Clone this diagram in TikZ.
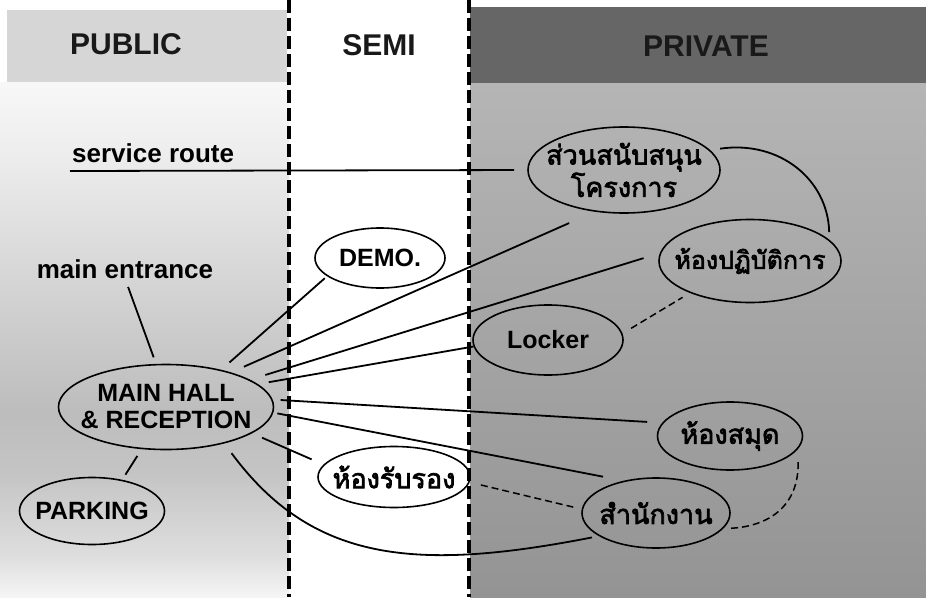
\documentclass[tikz,border=0pt]{standalone}
\usepackage{fontspec}
\setmainfont{Liberation Sans}
\newfontfamily\thaifont[Script=Thai,FakeBold=2.5]{Loma}
\usetikzlibrary{shapes.geometric}

\definecolor{pubband}{gray}{0.84}
\definecolor{privband}{gray}{0.40}
\definecolor{privtop}{gray}{0.71}
\definecolor{privbot}{gray}{0.58}
% public side: light at the top, darkest round the hall, fading out below
\pgfdeclareverticalshading{publicfade}{100bp}{gray(0bp)=(0.96); gray(25bp)=(0.96);
  gray(29bp)=(0.87); gray(37bp)=(0.77); gray(43bp)=(0.74); gray(51bp)=(0.80);
  gray(59bp)=(0.86); gray(68bp)=(0.93); gray(75bp)=(0.97); gray(100bp)=(0.97)}

\begin{document}
\begin{tikzpicture}[x=1pt,y=-1pt,
    zone/.style={font=\fontsize{30}{30}\selectfont\bfseries,text=black!90},
    tag/.style={inner sep=0pt,font=\fontsize{26}{28}\selectfont\bfseries},
    room/.style={draw,ellipse,line width=1.6pt,inner sep=-30pt,align=center,
      font=\fontsize{25}{27}\selectfont\bfseries},
    troom/.style={room,font=\fontsize{27}{31}\selectfont\thaifont},
    link/.style={line width=1.8pt},
    weak/.style={line width=1.5pt,dash pattern=on 7pt off 4pt},
    border/.style={line width=3.2pt,dash pattern=on 13pt off 5pt}
  ]
  \useasboundingbox (0,0) rectangle (926,597);

  % zones
  \fill[pubband] (7,10) rectangle (287,82);
  \shade[shading=publicfade] (0,82) rectangle (289,597);
  \fill[privband] (470,7) rectangle (926,83);
  \shade[top color=privtop,bottom color=privbot] (470,83) rectangle (926,597);
  \draw[border] (289,0) -- (289,597);
  \draw[border] (469,0) -- (469,597);

  \node[zone] (pubhead) at (126,44) {PUBLIC};
  \node[zone] (semihead) at (379,45) {SEMI};
  \node[zone] (privhead) at (706,46) {PRIVATE};

  % rooms
  \node[room,minimum width=215pt,minimum height=85pt] (hall) at (166,407) {MAIN HALL\\\& RECEPTION};
  \node[room,minimum width=145pt,minimum height=67pt] (parking) at (92,511) {PARKING};
  \node[room,minimum width=130pt,minimum height=60pt] (demo) at (380,258) {DEMO.};
  \node[troom,minimum width=152pt,minimum height=61pt] (reception) at (394,477) {ห้องรับรอง};
  \node[troom,minimum width=192pt,minimum height=86pt] (support) at (624,170) {ส่วนสนับสนุน\\โครงการ};
  \node[troom,minimum width=182pt,minimum height=83pt,font=\fontsize{25}{30}\selectfont\thaifont] (lab) at (750,261) {ห้องปฏิบัติการ};
  \node[room,minimum width=150pt,minimum height=70pt] (locker) at (548,340) {Locker};
  \node[troom,minimum width=145pt,minimum height=68pt] (library) at (730,436) {ห้องสมุด};
  \node[troom,minimum width=148pt,minimum height=70pt] (office) at (656,513) {สำนักงาน};

  \node[tag,anchor=base west] (route) at (72,162) {service route};
  \node[tag,anchor=base] (entrance) at (125,278) {main entrance};
  \coordinate (routestart) at (70,171);

  % links out of the hall
  \draw[link,shorten <=7pt,shorten >=9pt] (hall.103) -- (entrance.south);
  \draw[link,shorten <=8pt,shorten >=6pt] (hall.240) -- (parking.46);
  \draw[link,shorten <=11pt,shorten >=3pt] (hall.34) -- (demo.199);
  \draw[link,shorten <=14pt,shorten >=28pt] (hall.28) -- (support.235);
  \draw[link,shorten <=16pt,shorten >=17pt] (hall.18.5) -- (lab.175);
  \draw[link,shorten <=11pt] (hall.14) -- (locker.185);
  \draw[link,shorten <=8pt,shorten >=15pt] (hall.4) -- (library.169);
  \draw[link,shorten <=4pt,shorten >=21pt] (hall.-3) -- (office.135);
  \draw[link,shorten <=11pt,shorten >=13pt] (hall.-17.6) -- (reception.170);
  \draw[link,shorten <=12pt,shorten >=7pt] (hall.-32) .. controls (312,562) and (415,572) .. (office.202);

  % the rest
  \draw[link,shorten >=13pt] (routestart) -- (support.west);
  \draw[link,shorten <=10pt,shorten >=7.6pt] (support.13) .. controls (780,140) and (828,180) .. (lab.15);
  \draw[weak,shorten <=10pt,shorten >=8.5pt] (locker.5) -- (lab.208);
  \draw[weak,shorten <=11.5pt,shorten >=7.5pt] (reception.-4) -- (office.177);
  \draw[weak,shorten <=13pt,shorten >=5pt] (library.-11) .. controls (799,505) and (770,527) .. (office.-13);
\end{tikzpicture}
\end{document}
